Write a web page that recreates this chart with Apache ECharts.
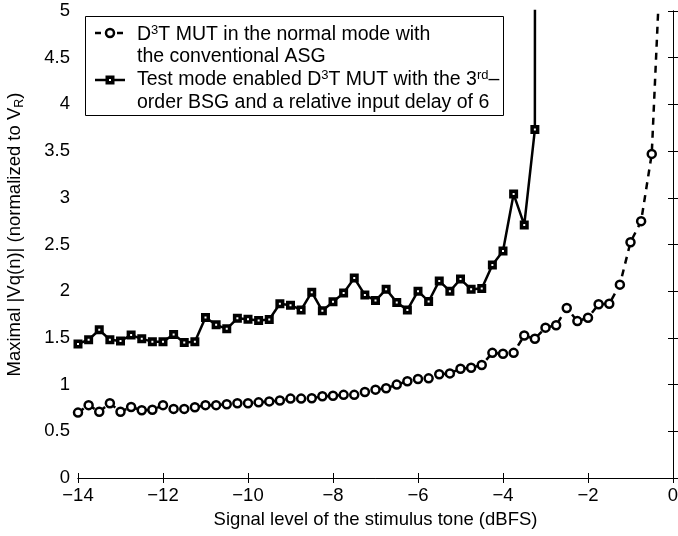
<!DOCTYPE html>
<html>
<head>
<meta charset="utf-8">
<script src="https://cdn.jsdelivr.net/npm/echarts@6/dist/echarts.min.js"></script>
<style>html,body{margin:0;padding:0;background:#fff}#c{width:678px;height:536px}</style>
</head>
<body>
<div id="c"></div>
<script>
// Signal levels (dBFS)
var levels = [-14, -13.75, -13.5, -13.25, -13, -12.75, -12.5, -12.25, -12, -11.75, -11.5, -11.25,
  -11, -10.75, -10.5, -10.25, -10, -9.75, -9.5, -9.25, -9, -8.75, -8.5, -8.25,
  -8, -7.75, -7.5, -7.25, -7, -6.75, -6.5, -6.25, -6, -5.75, -5.5, -5.25,
  -5, -4.75, -4.5, -4.25, -4, -3.75, -3.5, -3.25, -3, -2.75, -2.5, -2.25,
  -2, -1.75, -1.5, -1.25, -1, -0.75, -0.5, -0.25];

// D3T MUT, normal mode, conventional ASG (circles, dashed)
var normalMode = [0.70, 0.78, 0.71, 0.80, 0.71, 0.76, 0.725, 0.73, 0.78, 0.74, 0.74, 0.757,
  0.78, 0.78, 0.79, 0.80, 0.80, 0.81, 0.82, 0.83, 0.85, 0.85, 0.853, 0.875,
  0.88, 0.89, 0.89, 0.92, 0.946, 0.96, 1.00, 1.035, 1.06, 1.067, 1.11, 1.12,
  1.17, 1.18, 1.21, 1.34, 1.33, 1.34, 1.525, 1.49, 1.61, 1.635, 1.82, 1.68,
  1.715, 1.86, 1.865, 2.07, 2.525, 2.75, 3.47, 6.0];

// Test mode, 3rd-order BSG, relative input delay 6 (squares, solid)
var testMode = [1.436, 1.48, 1.586, 1.48, 1.468, 1.53, 1.49, 1.46, 1.46, 1.536, 1.45, 1.46,
  1.718, 1.64, 1.597, 1.71, 1.70, 1.686, 1.697, 1.865, 1.85, 1.80, 1.99, 1.79,
  1.886, 1.98, 2.14, 1.96, 1.90, 2.02, 1.88, 1.80, 2.00, 1.89, 2.11, 2.00,
  2.13, 2.02, 2.03, 2.28, 2.43, 3.04, 2.71, 3.73, 200];

var xTicks = [-14, -12, -10, -8, -6, -4, -2, 0];

var FONT = "'Liberation Sans', Arial, Helvetica, sans-serif";

function pairs(vals) {
  var out = [];
  for (var i = 0; i < vals.length; i++) out.push([levels[i], vals[i]]);
  return out;
}

var chart = echarts.init(document.getElementById('c'), null, {renderer: 'canvas'});

var baseAxis = {
  axisLine: {show: true, lineStyle: {color: '#000', width: 1}},
  axisTick: {show: true, inside: true, length: 5, lineStyle: {color: '#000', width: 1}},
  splitLine: {show: false}
};

var legendRich = {
  n: {fontSize: 19.5, fontFamily: FONT, fill: '#000', lineHeight: 22},
  s: {fontSize: 13, fontFamily: FONT, fill: '#000', lineHeight: 8, verticalAlign: 'top'}
};

function legendText(txt, y) {
  return {
    type: 'text', x: 137, y: y, z: 101, silent: true,
    style: {text: txt, rich: legendRich, font: '19.5px ' + FONT, fill: '#000',
            textAlign: 'left', textVerticalAlign: 'middle', verticalAlign: 'middle'}
  };
}

chart.setOption({
  animation: false,
  backgroundColor: '#fff',
  grid: {left: 78, right: 5, top: 11, bottom: 58, containLabel: false, outerBoundsMode: 'none'},
  xAxis: [
    Object.assign({}, baseAxis, {
      type: 'value', min: xTicks[0], max: xTicks[xTicks.length - 1], interval: 2, position: 'bottom',
      axisLabel: {color: '#000', fontSize: 18.5, fontFamily: FONT, margin: 8,
        formatter: function (v) { return v < 0 ? '\u2212' + Math.abs(v) : String(v); }},
      name: 'Signal level of the stimulus tone (dBFS)', nameLocation: 'middle', nameGap: 32,
      nameTextStyle: {color: '#000', fontSize: 18.5, fontFamily: FONT}
    }),
    Object.assign({}, baseAxis, {
      type: 'value', min: xTicks[0], max: xTicks[xTicks.length - 1], interval: 2, position: 'top',
      axisLabel: {show: false}
    })
  ],
  yAxis: [
    Object.assign({}, baseAxis, {
      type: 'value', min: 0, max: 5, interval: 0.5, position: 'left',
      axisLabel: {color: '#000', fontSize: 18.5, fontFamily: FONT, margin: 8},
      name: 'Maximal |Vq(n)| (normalized to V{sub|R})', nameLocation: 'middle', nameGap: 52,
      nameTextStyle: {color: '#000', fontSize: 18.5, fontFamily: FONT, lineHeight: 22,
        padding: [0, 0, 0, 20],
        rich: {sub: {fontSize: 12.5, fontFamily: FONT, color: '#000', lineHeight: 8, verticalAlign: 'bottom'}}}
    }),
    Object.assign({}, baseAxis, {
      type: 'value', min: 0, max: 5, interval: 0.5, position: 'right',
      axisLabel: {show: false}
    })
  ],
  series: [
    {
      name: 'D3T MUT in the normal mode with the conventional ASG',
      type: 'line', data: pairs(normalMode), clip: true,
      symbol: 'circle', symbolSize: 8, showAllSymbol: true,
      itemStyle: {color: '#fff', borderColor: '#000', borderWidth: 2.5},
      lineStyle: {color: '#000', width: 2.5, type: [7, 6]},
      z: 3
    },
    {
      name: 'Test mode enabled D3T MUT with the 3rd-order BSG and a relative input delay of 6',
      type: 'line', data: pairs(testMode), clip: true,
      symbol: 'rect', symbolSize: 5.5, showAllSymbol: true,
      itemStyle: {color: '#fff', borderColor: '#000', borderWidth: 3.5},
      lineStyle: {color: '#000', width: 2.5, type: 'solid'},
      z: 3
    }
  ],
  graphic: [
    {type: 'rect', z: 100, silent: true, shape: {x: 85.5, y: 16.5, width: 418, height: 99},
     style: {fill: '#fff', stroke: '#000', lineWidth: 1}},
    {type: 'line', z: 101, silent: true, shape: {x1: 95, y1: 33, x2: 125, y2: 33},
     style: {stroke: '#000', lineWidth: 2.5, lineDash: [6, 5]}},
    {type: 'circle', z: 102, silent: true, shape: {cx: 110, cy: 33, r: 4},
     style: {fill: '#fff', stroke: '#000', lineWidth: 2.5}},
    {type: 'line', z: 101, silent: true, shape: {x1: 95, y1: 80, x2: 125, y2: 80},
     style: {stroke: '#000', lineWidth: 2.5}},
    {type: 'rect', z: 102, silent: true, shape: {x: 107.25, y: 77.25, width: 5.5, height: 5.5},
     style: {fill: '#fff', stroke: '#000', lineWidth: 3.5}},
    legendText('{n|D}{s|3}{n|T MUT in the normal mode with}', 35),
    legendText('{n|the conventional ASG}', 57),
    legendText('{n|Test mode enabled D}{s|3}{n|T MUT with the 3}{s|rd}{n|\u2013}', 80),
    legendText('{n|order BSG and a relative input delay of 6}', 103)
  ]
});
</script>
</body>
</html>
